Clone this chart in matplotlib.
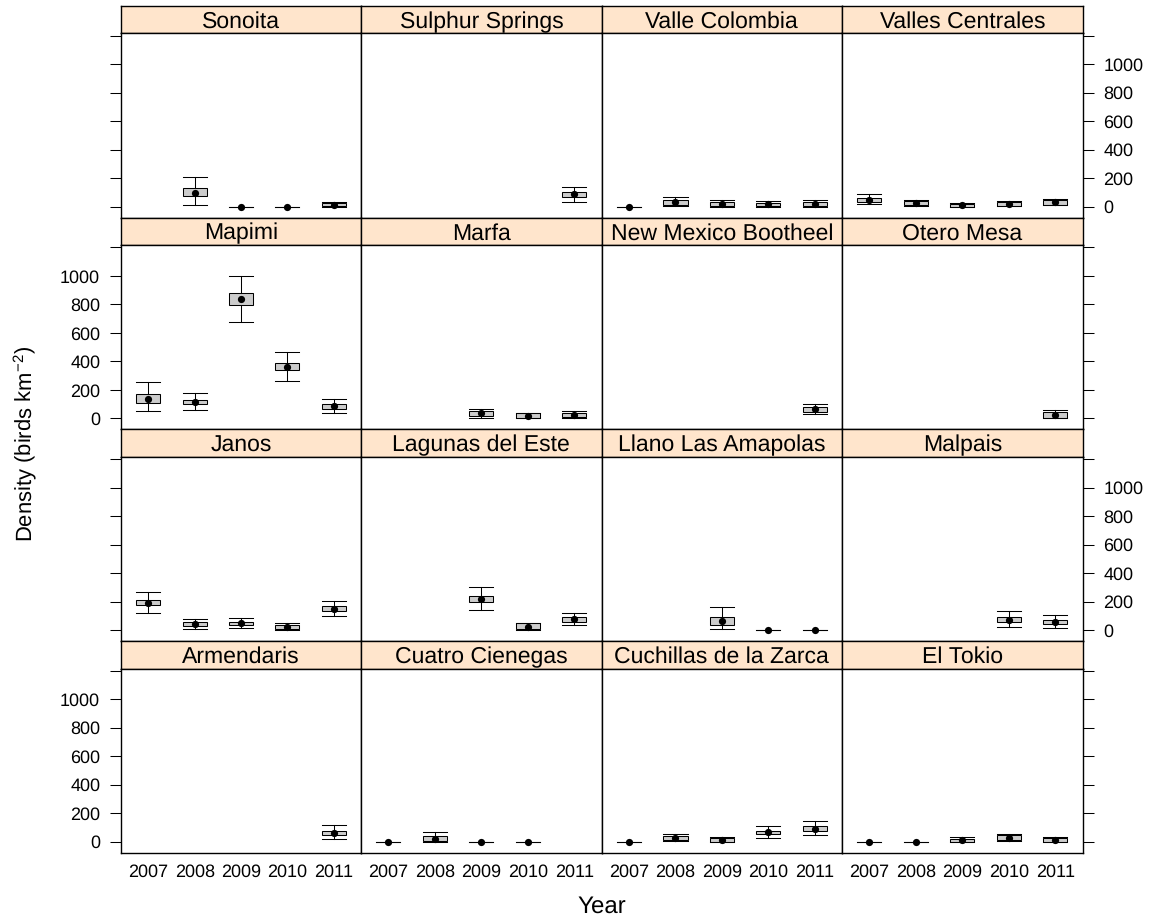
import numpy as np
import matplotlib
matplotlib.use('Agg')
import matplotlib.pyplot as plt

plt.rcParams['font.family'] = ['Liberation Sans', 'DejaVu Sans']
plt.rcParams['mathtext.fontset'] = 'custom'
plt.rcParams['mathtext.rm'] = 'Liberation Sans'
plt.rcParams['mathtext.default'] = 'regular'
plt.rcParams['text.hinting'] = 'no_hinting'
plt.rcParams['text.hinting_factor'] = 1

W, H = 1153, 922
n = np.nan

years = [2007, 2008, 2009, 2010, 2011]
y_ticks = [0, 200, 400, 600, 800, 1000, 1200]
y_labels = ['0', '200', '400', '600', '800', '1000', '']

# panels from the top row down
sites = [
    'Sonoita', 'Sulphur Springs', 'Valle Colombia', 'Valles Centrales',
    'Mapimi', 'Marfa', 'New Mexico Bootheel', 'Otero Mesa',
    'Janos', 'Lagunas del Este', 'Llano Las Amapolas', 'Malpais',
    'Armendaris', 'Cuatro Cienegas', 'Cuchillas de la Zarca', 'El Tokio',
]

density = [
    [n, 98, 0, 0, 12], [n, n, n, n, 86], [0, 30, 19, 16, 16], [47, 23, 9, 21, 33],
    [133, 115, 837, 362, 84], [n, n, 35, 19, 26], [n, n, n, n, 63], [n, n, n, n, 26],
    [192, 42, 47, 21, 150], [n, n, 217, 21, 75], [n, n, 61, 0, 0], [n, n, n, 72, 56],
    [n, n, n, n, 61], [0, 21, 0, 0, n], [0, 28, 12, 65, 91], [0, 0, 12, 26, 14],
]
lower = [
    [n, 12, 0, 0, 0], [n, n, n, n, 35], [0, 5, 0, 0, 0], [16, 5, 0, 5, 12],
    [51, 56, 674, 262, 40], [n, n, 5, 0, 0], [n, n, n, n, 28], [n, n, n, n, 0],
    [117, 9, 16, 2, 98], [n, n, 138, 2, 33], [n, n, 9, 0, 0], [n, n, n, 23, 16],
    [n, n, n, n, 16], [0, 0, 0, 0, n], [0, 5, 0, 28, 49], [0, 0, 0, 5, 0],
]
box_low = [
    [n, 75, 0, 0, 2], [n, n, n, n, 70], [0, 10, 2, 2, 5], [33, 9, 1, 7, 14],
    [105, 98, 795, 337, 68], [n, n, 16, 2, 7], [n, n, n, n, 44], [n, n, n, n, 2],
    [173, 28, 33, 9, 133], [n, n, 194, 5, 56], [n, n, 37, 0, 0], [n, n, n, 54, 42],
    [n, n, n, n, 44], [0, 2, 0, 0, n], [0, 9, 1, 54, 77], [0, 0, 1, 9, 1],
]
box_high = [
    [n, 128, 0, 0, 23], [n, n, n, n, 100], [0, 47, 35, 28, 35], [58, 40, 19, 30, 44],
    [168, 131, 877, 388, 98], [n, n, 51, 35, 40], [n, n, n, n, 82], [n, n, n, n, 47],
    [210, 58, 58, 35, 168], [n, n, 240, 47, 91], [n, n, 89, 0, 0], [n, n, n, 91, 70],
    [n, n, n, n, 75], [0, 40, 0, 0, n], [0, 42, 26, 77, 107], [0, 0, 21, 44, 28],
]
upper = [
    [n, 208, 0, 0, 30], [n, n, n, n, 140], [0, 65, 47, 40, 44], [89, 44, 23, 37, 51],
    [255, 175, 1000, 463, 138], [n, n, 63, 40, 51], [n, n, n, n, 98], [n, n, n, n, 58],
    [267, 75, 82, 47, 206], [n, n, 299, 47, 121], [n, n, 161, 0, 0], [n, n, n, 135, 107],
    [n, n, n, n, 119], [0, 70, 0, 0, n], [0, 54, 30, 107, 142], [0, 0, 30, 54, 35],
]

col_edges = [121, 361, 601.7, 842, 1082.7]
strip_tops = [6, 217.7, 429.4, 641]
strip_h = 27.5
panel_h = 184.2


def px_axes(left, top, right, bottom):
    return fig.add_axes([left / W, 1 - bottom / H, (right - left) / W, (bottom - top) / H])


fig = plt.figure(figsize=(W / 100, H / 100), dpi=100)

for i, site in enumerate(sites):
    row, col = divmod(i, 4)
    left, right = col_edges[col], col_edges[col + 1]
    top = strip_tops[row]

    # strip
    st = px_axes(left, top, right, top + strip_h)
    st.set_facecolor('#FFE5CC')
    st.set_xticks([]), st.set_yticks([])
    st.text(0.5, 0.2, site, transform=st.transAxes, ha='center', va='baseline', fontsize=16.7)

    ax = px_axes(left, top + strip_h, right, top + strip_h + panel_h)
    stats = []
    pos = []
    for j in range(len(years)):
        if np.isnan(density[i][j]):
            continue
        pos.append(j + 1)
        stats.append({'med': density[i][j], 'q1': box_low[i][j], 'q3': box_high[i][j],
                      'whislo': lower[i][j], 'whishi': upper[i][j], 'fliers': []})
    ax.bxp(stats, positions=pos, widths=0.52, capwidths=0.52, patch_artist=True, showfliers=False,
           boxprops=dict(facecolor='#CCCCCC', edgecolor='black', linewidth=0.75),
           whiskerprops=dict(color='black', linewidth=0.75),
           capprops=dict(color='black', linewidth=0.75),
           medianprops=dict(linewidth=0))
    ax.plot(pos, [density[i][p - 1] for p in pos], 'o', color='black', ms=5.2, mew=0, zorder=5)

    ax.set_xlim(0.41, 5.59)
    ax.set_ylim(-77, 1215)
    ax.set_xticks(range(1, 6))
    ax.set_yticks(y_ticks)
    ax.tick_params(axis='x', length=0, pad=8, labelsize=13)
    ax.set_xticklabels([str(y) for y in years] if row == 3 else [''] * 5)

    # alternating y axis, like lattice
    if col == 0 or col == 3:
        ax.set_yticklabels(y_labels)
        ax.tick_params(axis='y', length=8, width=0.75, labelsize=13, pad=7,
                       left=col == 0, right=col == 3,
                       labelleft=col == 0 and row % 2 == 1,
                       labelright=col == 3 and row % 2 == 0)
    else:
        ax.tick_params(axis='y', left=False, labelleft=False)

    for a in (ax, st):
        for s in a.spines.values():
            s.set_linewidth(1.0)

fig.text(25 / W, 1 - 443.5 / H, 'Density (birds km$^{-2}$)', rotation=90, ha='center', va='center', fontsize=15.6)
fig.text(602 / W, 1 - 907 / H, 'Year', ha='center', va='center', fontsize=17)

fig.savefig('out.png', dpi=100)
